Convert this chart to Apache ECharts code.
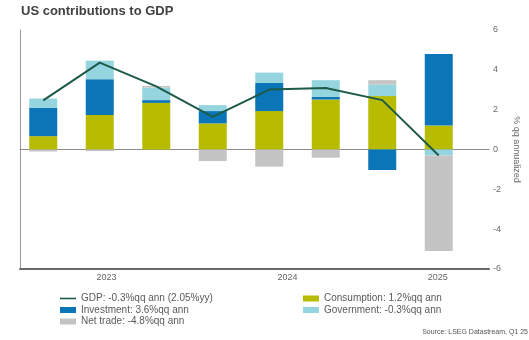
<!DOCTYPE html>
<html>
<head>
<meta charset="utf-8">
<script src="https://cdn.jsdelivr.net/npm/echarts@6/dist/echarts.min.js"></script>
<style>
  html, body { margin: 0; padding: 0; background: #ffffff; }
  #chart { width: 529px; height: 340px; }
</style>
</head>
<body>
<div id="chart"></div>
<script>
// Contributions to US real GDP growth, percentage points of q/q annualised growth
const quarters    = ['Q2 2023', 'Q3 2023', 'Q4 2023', 'Q1 2024', 'Q2 2024', 'Q3 2024', 'Q4 2024', 'Q1 2025'];
const consumption = [0.67, 1.73, 2.34, 1.31, 1.93, 2.51, 2.68, 1.2];
const investment  = [1.42, 1.80, 0.14, 0.62, 1.41, 0.13, -1.03, 3.6];
const government  = [0.47, 0.93, 0.63, 0.30, 0.52, 0.84, 0.58, -0.3];
const netTrade    = [-0.10, -0.08, 0.08, -0.58, -0.86, -0.41, 0.22, -4.8];
const gdp         = [2.47, 4.36, 3.17, 1.64, 3.01, 3.09, 2.48, -0.3];

// Year labels, placed in quarter-index units along the time axis
const years  = ['2023', '2024', '2025'];
const yearAt = [1.15, 4.43, 7.15];
const yMin = -6, yMax = 6, yStep = 2;

const names = {
  gdp: 'GDP: -0.3%qq ann (2.05%yy)',
  inv: 'Investment: 3.6%qq ann',
  net: 'Net trade: -4.8%qq ann',
  con: 'Consumption: 1.2%qq ann',
  gov: 'Government: -0.3%qq ann'
};

const colors = {
  gdp: '#1d5a48',
  con: '#b8bc00',
  inv: '#0a76b7',
  gov: '#95d5df',
  net: '#c4c4c4'
};

const FONT = "'Liberation Sans', Arial, sans-serif";
// time span of the frame, in quarter-index units (first bar = 0)
const spanMin = -0.416, spanMax = 8.08;

const barSeries = (key, values) => ({
  name: names[key],
  type: 'bar',
  stack: 'contrib',
  barWidth: 28,
  xAxisIndex: 0,
  yAxisIndex: 0,
  data: values,
  itemStyle: { color: colors[key] },
  emphasis: { disabled: true }
});

const chart = echarts.init(document.getElementById('chart'), null, { renderer: 'canvas' });

const legendText = { fontFamily: FONT, fontSize: 10, color: '#5a5a5a', lineHeight: 11 };

chart.setOption({
  animation: false,
  textStyle: { fontFamily: FONT },
  title: [
    {
      text: 'US contributions to GDP',
      left: 21, top: 5, padding: 0,
      textStyle: { fontFamily: FONT, fontSize: 13, fontWeight: 'bold', color: '#404040' }
    },
    {
      text: 'Source: LSEG Datastream, Q1 25',
      right: 1, top: 329, padding: 0,
      textStyle: { fontFamily: FONT, fontSize: 7, fontWeight: 'normal', color: '#555555' }
    }
  ],
  grid: [
    // quarterly bars and GDP line
    { left: 15, right: 62, top: 30, bottom: 71, containLabel: false },
    // frame: time axis, value scale, zero line
    { left: 20, right: 29, top: 30, bottom: 71, containLabel: false }
  ],
  legend: [
    {
      orient: 'vertical',
      left: 60, top: 293, padding: 0,
      itemWidth: 16, itemHeight: 6, itemGap: 0.5,
      textStyle: legendText,
      data: [
        { name: names.gdp, icon: 'path://M0,0H20V2H0Z' },
        { name: names.inv, icon: 'rect' },
        { name: names.net, icon: 'rect' }
      ],
      selectedMode: false
    },
    {
      orient: 'vertical',
      left: 303, top: 293, padding: 0,
      itemWidth: 16, itemHeight: 6, itemGap: 0.5,
      textStyle: legendText,
      data: [{ name: names.con, icon: 'rect' }, { name: names.gov, icon: 'rect' }],
      selectedMode: false
    }
  ],
  xAxis: [
    {
      gridIndex: 0,
      type: 'category',
      data: quarters,
      boundaryGap: true,
      show: false
    },
    {
      gridIndex: 1,
      type: 'value',
      min: spanMin,
      max: spanMax,
      splitLine: { show: false },
      axisTick: { show: false },
      axisLine: { onZero: false, lineStyle: { color: '#6a6a6a', width: 2 } },
      axisLabel: {
        customValues: yearAt,
        formatter: v => {
          let best = 0;
          yearAt.forEach((p, i) => { if (Math.abs(p - v) < Math.abs(yearAt[best] - v)) best = i; });
          return years[best];
        },
        color: '#666666', fontSize: 9, fontFamily: FONT, margin: 4
      }
    },
    {
      // zero line across the frame
      gridIndex: 1,
      type: 'value',
      min: spanMin,
      max: spanMax,
      position: 'top',
      axisLine: { show: true, onZero: true, onZeroAxisIndex: 1, lineStyle: { color: '#8a8a8a', width: 1 } },
      axisTick: { show: false },
      axisLabel: { show: false },
      splitLine: { show: false }
    }
  ],
  yAxis: [
    {
      gridIndex: 0,
      type: 'value',
      min: yMin, max: yMax, interval: yStep,
      show: false
    },
    {
      gridIndex: 1,
      type: 'value',
      position: 'right',
      min: yMin, max: yMax, interval: yStep,
      name: '% qq annualized',
      nameLocation: 'middle',
      nameRotate: -90,
      nameGap: 19,
      nameTextStyle: { color: '#6a6a6a', fontSize: 9, fontFamily: FONT },
      axisLine: { show: false, onZero: false },
      axisTick: { show: false },
      splitLine: { show: false },
      axisLabel: { color: '#6a6a6a', fontSize: 9, fontFamily: FONT, margin: 4 }
    },
    {
      gridIndex: 1,
      type: 'value',
      position: 'left',
      min: yMin, max: yMax, interval: yStep,
      axisLine: { show: true, onZero: false, lineStyle: { color: '#9a9a9a', width: 1 } },
      axisTick: { show: false },
      axisLabel: { show: false },
      splitLine: { show: false }
    }
  ],
  series: [
    barSeries('con', consumption),
    barSeries('inv', investment),
    barSeries('gov', government),
    barSeries('net', netTrade),
    {
      name: names.gdp,
      type: 'line',
      xAxisIndex: 0,
      yAxisIndex: 0,
      data: gdp,
      symbol: 'none',
      z: 5,
      lineStyle: { color: colors.gdp, width: 2 },
      itemStyle: { color: colors.gdp },
      emphasis: { disabled: true }
    }
  ]
});
</script>
</body>
</html>
